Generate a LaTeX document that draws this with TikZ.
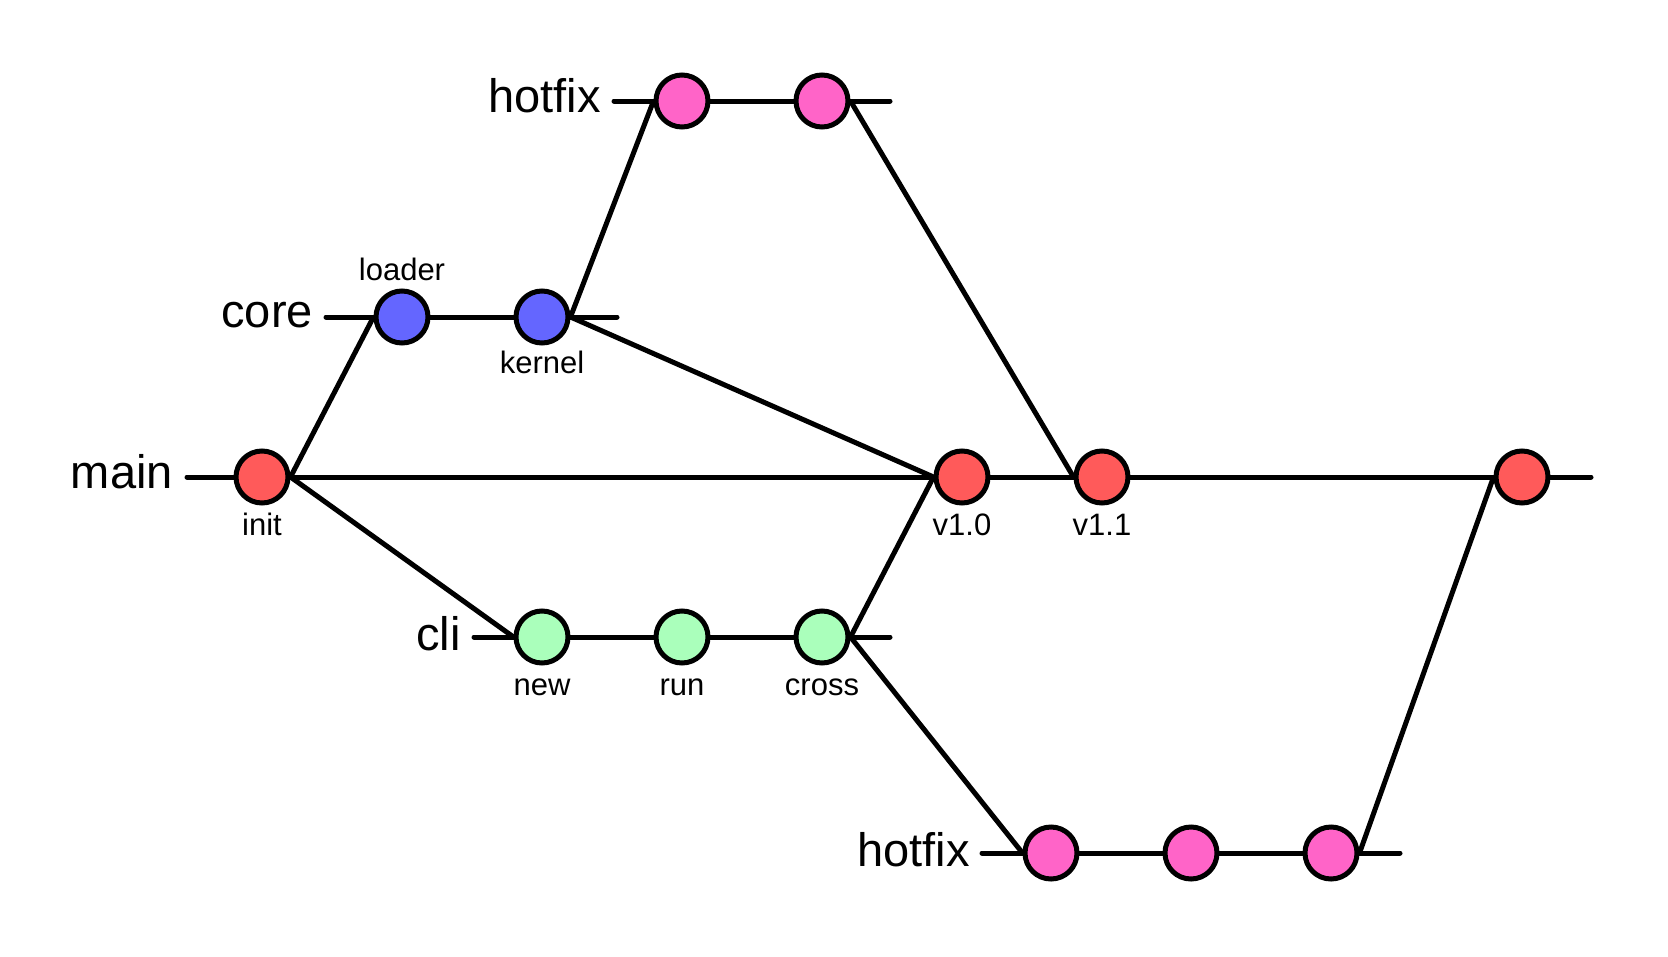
\documentclass[tikz,border=0pt]{standalone}
\usepackage{fontspec}
\setmainfont{Liberation Sans}
\usetikzlibrary{backgrounds}
\definecolor{cmain}{RGB}{255,90,90}
\definecolor{ccore}{RGB}{100,102,255}
\definecolor{ccli}{RGB}{170,255,187}
\definecolor{chot}{RGB}{255,100,200}
\begin{document}
\begin{tikzpicture}[x=1pt,y=-1pt,
  commit/.style={circle, draw=black, line width=5pt, minimum size=52pt, inner sep=0pt},
  branchline/.style={line width=5pt, line cap=round},
  mergeline/.style={line width=5pt},
  blabel/.style={anchor=base east, inner sep=0pt, font=\fontsize{47}{52}\selectfont},
  clabel/.style={anchor=base, inner sep=0pt, font=\fontsize{31}{36}\selectfont}]
\useasboundingbox (0,0) rectangle (1668,956);
% commits
\node[commit, fill=cmain] (init) at (262,477) {};
\node[commit, fill=cmain] (v10) at (962,477) {};
\node[commit, fill=cmain] (v11) at (1102,477) {};
\node[commit, fill=cmain] (m4) at (1522,477) {};
\node[commit, fill=ccore] (loader) at (402,317) {};
\node[commit, fill=ccore] (kernel) at (542,317) {};
\node[commit, fill=chot] (h1) at (682,101) {};
\node[commit, fill=chot] (h2) at (822,101) {};
\node[commit, fill=ccli] (new) at (542,637) {};
\node[commit, fill=ccli] (run) at (682,637) {};
\node[commit, fill=ccli] (cross) at (822,637) {};
\node[commit, fill=chot] (b1) at (1051,853) {};
\node[commit, fill=chot] (b2) at (1191,853) {};
\node[commit, fill=chot] (b3) at (1331,853) {};
% branch line ends
\coordinate (mainS) at (187,477);
\coordinate (mainE) at (1591,477);
\coordinate (coreS) at (326,317);
\coordinate (coreE) at (617,317);
\coordinate (topS) at (614,101);
\coordinate (topE) at (890,101);
\coordinate (cliS) at (474,637);
\coordinate (cliE) at (890,637);
\coordinate (botS) at (982,853);
\coordinate (botE) at (1400,853);
\begin{pgfonlayer}{background}
\draw[branchline] (mainS) -- (mainE);
\draw[branchline] (coreS) -- (coreE);
\draw[branchline] (topS) -- (topE);
\draw[branchline] (cliS) -- (cliE);
\draw[branchline] (botS) -- (botE);
\draw[mergeline] (init.east) -- (loader.west);
\draw[mergeline] (init.east) -- (new.west);
\draw[mergeline] (kernel.east) -- (h1.west);
\draw[mergeline] (kernel.east) -- (v10.west);
\draw[mergeline] (h2.east) -- (v11.west);
\draw[mergeline] (cross.east) -- (v10.west);
\draw[mergeline] (cross.east) -- (b1.west);
\draw[mergeline] (b3.east) -- (m4.west);
\end{pgfonlayer}
% branch labels
\node[blabel] (lmain) at (173,488) {main};
\node[blabel] (lcore) at (313,327) {core};
\node[blabel] (ltop) at (601,112) {hotfix};
\node[blabel] (lcli) at (461,650) {cli};
\node[blabel] (lbot) at (970,866) {hotfix};
% commit labels
\node[clabel] (tloader) at (402,280) {loader};
\node[clabel] (tinit) at (262,535) {init};
\node[clabel] (tkernel) at (542,373) {kernel};
\node[clabel] (tnew) at (542,695) {new};
\node[clabel] (trun) at (682,695) {run};
\node[clabel] (tcross) at (822,695) {cross};
\node[clabel] (tv10) at (962,535) {v1.0};
\node[clabel] (tv11) at (1102,535) {v1.1};
\end{tikzpicture}
\end{document}
